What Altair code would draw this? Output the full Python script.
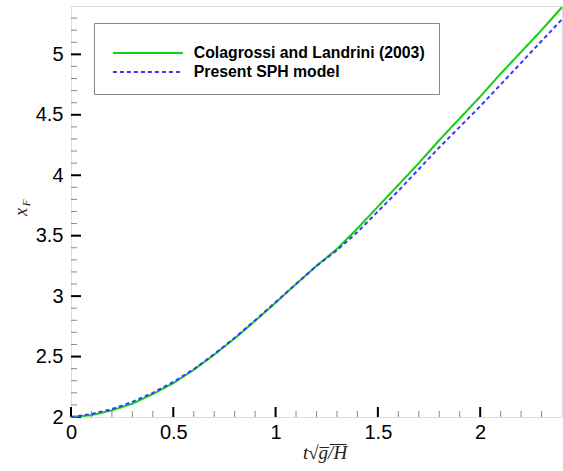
import altair as alt
import pandas as pd
import numpy as np

# ---- data ----
series_names = ["Colagrossi and Landrini (2003)", "Present SPH model"]

t_ref = [0.0, 0.1, 0.2, 0.3, 0.4, 0.5, 0.6, 0.7, 0.8, 0.9, 1.0, 1.1, 1.2,
         1.3, 1.4, 1.5, 1.6, 1.7, 1.8, 1.9, 2.0, 2.1, 2.2, 2.3, 2.4]
x_ref = [2.000, 2.015, 2.055, 2.110, 2.190, 2.280, 2.390, 2.515, 2.650, 2.795,
         2.945, 3.100, 3.250, 3.390, 3.560, 3.740, 3.920, 4.100, 4.290, 4.470,
         4.650, 4.840, 5.020, 5.200, 5.390]

t_sph = [0.0, 0.1, 0.2, 0.3, 0.4, 0.5, 0.6, 0.7, 0.8, 0.9, 1.0, 1.1, 1.2,
         1.3, 1.4, 1.5, 1.6, 1.7, 1.8, 1.9, 2.0, 2.1, 2.2, 2.3, 2.4]
x_sph = [2.000, 2.025, 2.065, 2.125, 2.200, 2.290, 2.395, 2.520, 2.655, 2.800,
         2.950, 3.100, 3.250, 3.380, 3.530, 3.700, 3.870, 4.050, 4.230, 4.400,
         4.570, 4.750, 4.930, 5.110, 5.290]

x_major = [0, 0.5, 1, 1.5, 2]
y_major = [2, 2.5, 3, 3.5, 4, 4.5, 5]
x_minor = [round(v, 1) for v in np.arange(0.1, 2.35, 0.1) if round(v, 1) not in x_major]
y_minor = [round(v, 1) for v in np.arange(2.1, 5.35, 0.1) if round(v, 1) not in y_major]

x_title = "t\u221Ag\u0305/\u0305H\u0305"

# ---- build ----
W, H = 491, 411
df = pd.concat([
    pd.DataFrame({"t": t_ref, "x": x_ref, "s": series_names[0], "o": 0}),
    pd.DataFrame({"t": t_sph, "x": x_sph, "s": series_names[1], "o": 1}),
])

xs = alt.Scale(domain=[0, 2.4], nice=False, zero=False)
ys = alt.Scale(domain=[2, 5.4], nice=False, zero=False)

axis_common = dict(title=None, domain=False, ticks=False, tickSize=0, grid=False,
                   labelFont="Liberation Sans", labelFontSize=20, labelColor="black",
                   labelFlush=False, labelOverlap=False, format="~g")
x_axis = alt.Axis(values=x_major, labelPadding=5, **axis_common)
y_axis = alt.Axis(values=y_major, labelPadding=8, **axis_common)

leg = alt.Legend(title=" ", titleFontSize=6, titlePadding=2,
                 orient="none", legendX=23, legendY=17,
                 symbolType="M-0.6,0H13.4", symbolSize=100, symbolStrokeWidth=2,
                 labelFont="Liberation Sans", labelFontWeight="bold",
                 labelFontSize=15.8, labelColor="black", labelOffset=70,
                 labelLimit=400, padding=14, rowPadding=2,
                 strokeColor="#888888", fillColor="white")

lines = alt.Chart(df).mark_line(strokeWidth=2).encode(
    x=alt.X("t:Q", scale=xs, axis=x_axis),
    y=alt.Y("x:Q", scale=ys, axis=y_axis),
    color=alt.Color("s:N", scale=alt.Scale(domain=series_names,
                                           range=["#10d010", "#3838ff"]), legend=leg),
    strokeDash=alt.StrokeDash("s:N", scale=alt.Scale(domain=series_names,
                                                     range=[[1, 0], [4, 3]]), legend=leg),
    order="o:Q",
)

ymaj = alt.Chart(pd.DataFrame({"v": y_major})).mark_rule(color="black", strokeWidth=2).encode(
    y=alt.Y("v:Q", scale=ys, axis=y_axis), x=alt.value(0), x2=alt.value(10))
ymin = alt.Chart(pd.DataFrame({"v": y_minor})).mark_rule(color="#888888", strokeWidth=1).encode(
    y=alt.Y("v:Q", scale=ys, axis=y_axis), x=alt.value(0), x2=alt.value(6))
xmaj = alt.Chart(pd.DataFrame({"v": x_major})).mark_rule(color="black", strokeWidth=2).encode(
    x=alt.X("v:Q", scale=xs, axis=x_axis), y=alt.value(H), y2=alt.value(H - 10))
xmin = alt.Chart(pd.DataFrame({"v": x_minor})).mark_rule(color="#888888", strokeWidth=1).encode(
    x=alt.X("v:Q", scale=xs, axis=x_axis), y=alt.value(H), y2=alt.value(H - 6))

tx = alt.Chart(pd.DataFrame({"l": [x_title]})).mark_text(
    font="Liberation Serif", fontStyle="italic", fontSize=19, color="#222222",
    align="center", baseline="middle").encode(text="l:N", x=alt.value(254), y=alt.value(447))
ty1 = alt.Chart(pd.DataFrame({"l": ["x"]})).mark_text(
    font="Liberation Serif", fontStyle="italic", fontSize=18, color="#222222",
    align="center", baseline="middle", angle=270).encode(text="l:N", x=alt.value(-49), y=alt.value(206))
ty2 = alt.Chart(pd.DataFrame({"l": ["F"]})).mark_text(
    font="Liberation Serif", fontStyle="italic", fontSize=11, color="#222222",
    align="center", baseline="middle", angle=270).encode(text="l:N", x=alt.value(-44), y=alt.value(197))

chart = alt.layer(ymin, xmin, ymaj, xmaj, lines, tx, ty1, ty2).properties(
    width=W, height=H,
    autosize=alt.AutoSizeParams(type="none"),
    padding={"left": 71, "top": 6, "right": 1, "bottom": 54},
).configure_view(stroke="black", strokeWidth=2).configure(background="white")

chart.save("out.html", embed_options={"renderer": "svg", "actions": False})
